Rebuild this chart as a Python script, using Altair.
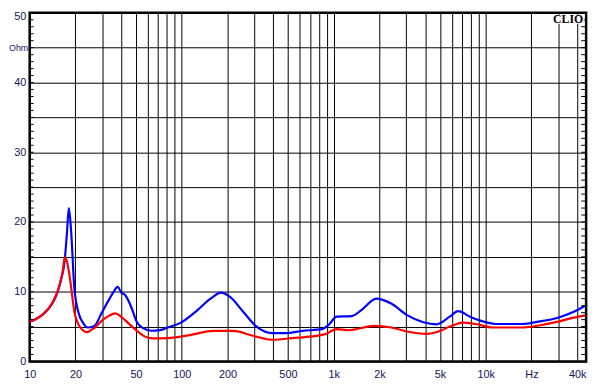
import altair as alt
import pandas as pd

# Impedance curves (Hz, Ohm)
blue_f = [10, 11, 12, 13, 14, 15, 16, 17, 17.6, 18.1, 18.7, 19.7, 21.2, 22.5, 24, 26.5, 30, 33.1, 35.5,
          37.9, 40, 42.6, 47, 50.6, 55.8, 63, 72, 81, 99, 127, 155, 181.5, 208, 254, 311, 398, 485,
          622, 839, 925, 1048, 1311, 1523, 1906, 2390, 3040, 3890, 4750, 5800, 6600, 7900, 9700,
          11700, 17400, 22300, 29900, 38000, 45000]
blue_z = [5.7, 6.1, 6.6, 7.3, 8.2, 9.5, 11.5, 14.5, 18.5, 22.0, 19.0, 10.4, 6.65, 5.5, 4.87, 5.05, 7.1, 8.8, 9.9,
          10.7, 9.9, 9.5, 7.6, 5.7, 4.77, 4.4, 4.5, 4.87, 5.57, 7.36, 9.0, 9.86, 9.25, 7.13, 5.0, 4.06, 4.06,
          4.39, 4.63, 5.23, 6.42, 6.5, 7.36, 9.0, 8.3, 6.65, 5.62, 5.33, 6.42, 7.21, 6.42, 5.71,
          5.37, 5.37, 5.71, 6.28, 7.13, 7.95]

red_f = [10, 12, 14, 15.7, 16.5, 17.0, 17.6, 18.3, 19.7, 21.5, 24, 25.3, 27, 30, 33, 36.7, 40, 44.7, 52, 57,
         65, 81, 115, 162, 219, 295, 398, 535, 720, 880, 1048, 1250, 1850, 2390, 3040, 4100, 4900,
         5800, 7100, 8600, 11100, 17400, 22300, 29900, 38000, 45000]
red_z = [5.7, 6.6, 8.3, 10.9, 13.0, 14.9, 14.3, 12.3, 7.1, 4.9, 4.2, 4.5, 4.9, 5.9, 6.5, 6.9, 6.4, 5.47, 4.2, 3.6,
         3.3, 3.35, 3.82, 4.39, 4.39, 3.68, 3.11, 3.35, 3.59, 3.92, 4.63, 4.48, 5.1, 4.87, 4.3, 3.96, 4.3,
         5.0, 5.57, 5.37, 4.87, 4.87, 5.15, 5.71, 6.28, 6.62]

# Axis / grid definitions
grid_x = [10, 20, 30, 40, 50, 60, 70, 80, 90, 100, 200, 300, 400, 500, 600, 700, 800, 900,
          1000, 2000, 3000, 4000, 5000, 6000, 7000, 8000, 9000, 10000, 20000, 30000, 40000]
x_label_vals = [10, 20, 50, 100, 200, 500, 1000, 2000, 5000, 10000, 20000, 40000]
x_label_text = ["10", "20", "50", "100", "200", "500", "1k", "2k", "5k", "10k", "Hz", "40k"]
grid_y = [0, 5, 10, 15, 20, 25, 30, 35, 40, 45, 50]
minor_y = list(range(0, 51))

x_domain = [10, 45800]
y_domain = [0, 50]

label_expr_x = "''"
for v, t in reversed(list(zip(x_label_vals, x_label_text))):
    label_expr_x = f"datum.value == {v} ? '{t}' : ({label_expr_x})"

FONT = "Liberation Sans"
LABEL_COLOR = "#14145a"

xscale = alt.Scale(type="log", domain=x_domain, nice=False, zero=False)
yscale = alt.Scale(domain=y_domain, nice=False, zero=False)

xaxis = alt.Axis(values=grid_x, labelExpr=label_expr_x, grid=True, gridColor="black", gridWidth=1,
                 gridOpacity=1, ticks=False, domain=False, title=None, labelFont=FONT, labelFontSize=11,
                 labelColor=LABEL_COLOR, labelPadding=7, labelFlush=False, labelOverlap=False)
yaxis = alt.Axis(values=grid_y,
                 labelExpr="datum.value == 45 ? 'Ohm' : (datum.value % 10 == 0 ? datum.label : '')",
                 grid=True, gridColor="black", gridWidth=1, gridOpacity=1, ticks=False, domain=False,
                 title=None, labelFont=FONT,
                 labelFontSize={"condition": {"test": "datum.value == 45", "value": 9}, "value": 11},
                 labelPadding={"condition": {"test": "datum.value == 45", "value": 2}, "value": 4},
                 labelBaseline={"condition": {"test": "datum.value == 50", "value": "top"}, "value": "middle"},
                 labelOffset={"condition": {"test": "datum.value == 50", "value": -2}, "value": 0},
                 labelColor=LABEL_COLOR, labelOverlap=False, labelFlush=False)

curves = pd.concat([
    pd.DataFrame({"f": blue_f, "z": blue_z, "s": "blue"}),
    pd.DataFrame({"f": red_f, "z": red_z, "s": "red"}),
])

base_lines = alt.Chart(curves).mark_line(strokeWidth=2.2, interpolate="monotone", clip=True).encode(
    x=alt.X("f:Q", scale=xscale, axis=xaxis),
    y=alt.Y("z:Q", scale=yscale, axis=yaxis),
    color=alt.Color("s:N", scale=alt.Scale(domain=["blue", "red"], range=["#0000ff", "#ff0000"]), legend=None),
    order=alt.Order("s:N"),
)

minor = pd.DataFrame({"z": minor_y})
left_ticks = alt.Chart(minor).mark_rule(color="black", strokeWidth=1).encode(
    y=alt.Y("z:Q", scale=yscale, axis=yaxis), x=alt.value(0), x2=alt.value(4))
right_ticks = alt.Chart(minor).mark_rule(color="black", strokeWidth=1).encode(
    y=alt.Y("z:Q", scale=yscale, axis=yaxis), x=alt.value(560), x2=alt.value(565))

logo = pd.DataFrame({"t": ["CLIO"]})
logo_bg = alt.Chart(logo).mark_rect(color="white").encode(
    x=alt.value(527), x2=alt.value(563), y=alt.value(2), y2=alt.value(11))
logo_text = alt.Chart(logo).mark_text(font="Liberation Serif", fontWeight="bold", fontSize=12,
                                      align="right", baseline="middle", color="black").encode(
    text="t:N", x=alt.value(562), y=alt.value(6.5))

chart = alt.layer(base_lines, left_ticks, right_ticks, logo_bg, logo_text).properties(
    width=565, height=354,
    autosize=alt.AutoSizeParams(type="none"),
    padding={"left": 22, "top": 2, "right": 8, "bottom": 20},
    background="white",
).configure_view(stroke="black", strokeWidth=2.5)

chart.save("out.html", embed_options={"renderer": "svg", "actions": False})
